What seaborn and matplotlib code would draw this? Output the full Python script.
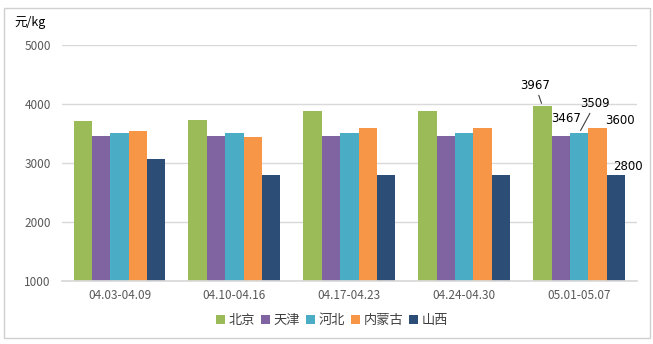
import matplotlib
matplotlib.use("Agg")
import matplotlib.pyplot as plt
from matplotlib.colors import to_hex
from matplotlib.patches import Rectangle
import pandas as pd
import seaborn as sns

weeks = ["04.03-04.09", "04.10-04.16", "04.17-04.23", "04.24-04.30", "05.01-05.07"]
provinces = ["北京", "天津", "河北", "内蒙古", "山西"]
beijing = [3717, 3733, 3883, 3883, 3967]
tianjin = [3467, 3467, 3467, 3467, 3467]
hebei = [3509, 3509, 3509, 3509, 3509]
neimenggu = [3550, 3450, 3600, 3600, 3600]
shanxi = [3067, 2800, 2800, 2800, 2800]
colors = ["#9bbb59", "#8064a2", "#4bacc6", "#f79646", "#2c4d75"]

series = [beijing, tianjin, hebei, neimenggu, shanxi]
df = pd.DataFrame(
    [(w, p, v) for p, vals in zip(provinces, series) for w, v in zip(weeks, vals)],
    columns=["week", "province", "price"],
)

sns.set_theme(style="white")
plt.rcParams["font.family"] = ["Noto Sans CJK SC", "DejaVu Sans"]

fig = plt.figure(figsize=(6.53, 3.44), dpi=100)
ax = fig.add_axes([0.095, 0.183, 0.880, 0.686])
sns.barplot(data=df, x="week", y="price", hue="province", palette=colors,
            width=0.80, saturation=1, linewidth=0, ax=ax, legend=True)

ax.set_ylim(1000, 5000)
ax.set_yticks([1000, 2000, 3000, 4000, 5000])
ax.yaxis.grid(True, color="#D9D9D9", linewidth=1)
ax.set_axisbelow(True)
for s in ["left", "right", "top"]:
    ax.spines[s].set_visible(False)
ax.spines["bottom"].set_color("#D9D9D9")
ax.tick_params(axis="both", length=0, labelsize=8.5, colors="#595959")
ax.tick_params(axis="y", pad=8)
ax.tick_params(axis="x", pad=6)
ax.set_xlabel("")
ax.set_ylabel("")
ax.set_xlim(-0.5, 4.5)

fig.text(0.022, 0.925, "元/kg", fontsize=9, color="#000000")

# value labels on the latest week
offsets = [(-7, 14), (5, 11), (16, 23), (22, 1), (12, 2)]
leader = [True, False, True, False, False]
last = len(weeks) - 1
bars = [p for p in ax.patches if p.get_width() > 0 and p.get_height() > 0]
for col, vals, (dx, dy), ld in zip(colors, series, offsets, leader):
    own = [p for p in bars if to_hex(p.get_facecolor()) == col]
    bar = max(own, key=lambda p: p.get_x())
    x = bar.get_x() + bar.get_width() / 2
    y = bar.get_height()
    ax.annotate(str(vals[last]), xy=(x, y), xytext=(dx, dy),
                textcoords="offset pixels", ha="center", va="bottom",
                fontsize=8.5, family="DejaVu Sans", color="#000000",
                arrowprops=dict(arrowstyle="-", color="#404040", lw=0.8,
                                shrinkA=0, shrinkB=2) if ld else None)

ax.legend(loc="upper center", bbox_to_anchor=(0.47, -0.09), ncol=5, frameon=False,
          fontsize=9.5, handlelength=0.7, handleheight=0.7, handletextpad=0.3,
          columnspacing=0.4, labelcolor="#404040")

fig.patches.append(Rectangle((0.006, 0.018), 0.99, 0.96, transform=fig.transFigure,
                             fill=False, edgecolor="#D0D0D0", linewidth=1))

fig.savefig("out.png", dpi=100)
